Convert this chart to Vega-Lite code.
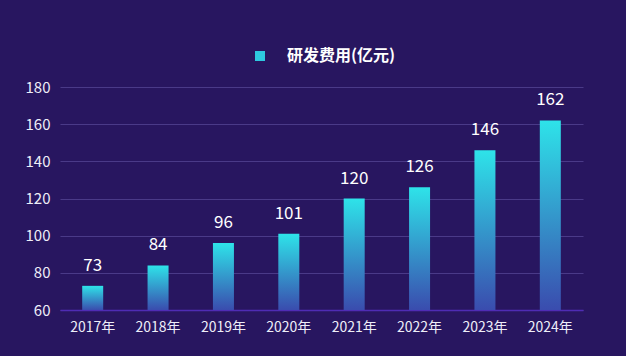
{
  "$schema": "https://vega.github.io/schema/vega-lite/v6.json",
  "width": 523,
  "height": 223,
  "autosize": "none",
  "padding": {"left": 60, "top": 87, "right": 43, "bottom": 46},
  "background": "#281660",
  "config": {
    "font": "Noto Sans CJK SC",
    "view": {"stroke": null}
  },
  "data": {
    "values": [
      {"year": "2017年", "value": 73},
      {"year": "2018年", "value": 84},
      {"year": "2019年", "value": 96},
      {"year": "2020年", "value": 101},
      {"year": "2021年", "value": 120},
      {"year": "2022年", "value": 126},
      {"year": "2023年", "value": 146},
      {"year": "2024年", "value": 162}
    ]
  },
  "encoding": {
    "x": {
      "field": "year",
      "type": "nominal",
      "sort": null,
      "scale": {"paddingInner": 0, "paddingOuter": 0},
      "axis": {
        "title": null,
        "labelAngle": 0,
        "labelColor": "#eeeef8",
        "labelFontSize": 14,
        "labelPadding": 10,
        "ticks": false,
        "domainColor": "#4f2cb4",
        "domainWidth": 1.5,
        "grid": false
      }
    },
    "y": {
      "field": "value",
      "type": "quantitative",
      "scale": {"domain": [60, 180], "nice": false, "zero": false},
      "axis": {
        "title": null,
        "values": [60, 80, 100, 120, 140, 160, 180],
        "labelColor": "#eeeef8",
        "labelFontSize": 15,
        "labelPadding": 10,
        "ticks": false,
        "domain": false,
        "gridColor": "#4a3a88",
        "gridWidth": 1
      }
    }
  },
  "layer": [
    {
      "mark": {
        "type": "bar",
        "size": 21,
        "fill": {"gradient": "linear", "x1": 0, "y1": 1, "x2": 0, "y2": 0,
          "stops": [{"offset": 0, "color": "#3a4cae"}, {"offset": 1, "color": "#2ee3e9"}]}
      },
      "encoding": {"y2": {"datum": 60}}
    },
    {
      "mark": {"type": "point", "filled": true, "opacity": 0, "shape": "square"},
      "encoding": {
        "color": {
          "datum": "研发费用(亿元)",
          "type": "nominal",
          "scale": {"range": ["#2ec8e0"]},
          "legend": {
            "title": null,
            "orient": "none",
            "legendX": 192,
            "legendY": -39,
            "symbolType": "square",
            "symbolSize": 100,
            "symbolOpacity": 1,
            "labelColor": "#ffffff",
            "labelFontSize": 16,
            "labelFontWeight": "bold",
            "labelOffset": 19,
            "symbolStrokeWidth": 0,
            "encode": {
              "symbols": {
                "update": {
                  "fill": {"value": {"gradient": "linear", "x1": 0, "y1": 1, "x2": 0, "y2": 0,
                    "stops": [{"offset": 0, "color": "#3a4cae"}, {"offset": 1, "color": "#2ee3e9"}]}},
                  "opacity": {"value": 1},
                  "fillOpacity": {"value": 1}
                }
              }
            }
          }
        }
      }
    },
    {
      "mark": {"type": "text", "dy": -20, "fontSize": 17, "color": "#ffffff"},
      "encoding": {"text": {"field": "value", "type": "quantitative"}}
    }
  ]
}
